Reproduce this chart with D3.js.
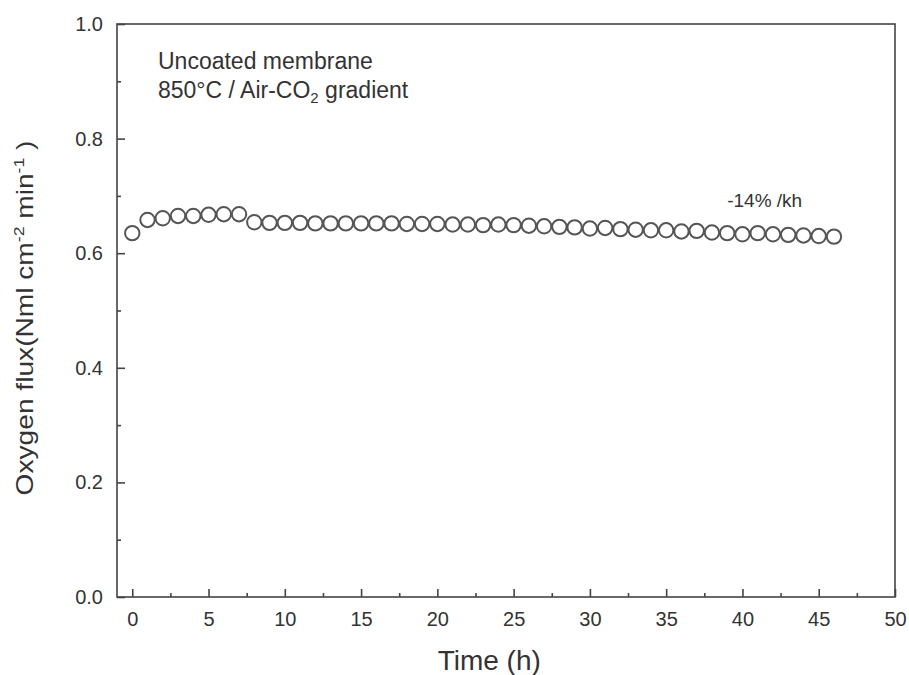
<!DOCTYPE html>
<html lang="en">
<head>
<meta charset="UTF-8">
<title>Oxygen flux</title>
<script src="https://cdn.jsdelivr.net/npm/d3@7"></script>
<style>
  body { margin: 0; background: #fff; }
  text { font-family: "Liberation Sans", Arial, sans-serif; fill: #333; }
</style>
</head>
<body>
<script>
// time in hours and oxygen flux values
var hours = d3.range(0, 47);
var flux = [0.635, 0.658, 0.661, 0.665, 0.665, 0.667, 0.668, 0.668, 0.654, 0.653,
            0.653, 0.653, 0.652, 0.652, 0.652, 0.652, 0.652, 0.652, 0.651, 0.651,
            0.651, 0.650, 0.650, 0.649, 0.650, 0.649, 0.648, 0.647, 0.646, 0.645,
            0.643, 0.644, 0.642, 0.641, 0.640, 0.640, 0.638, 0.639, 0.636, 0.635,
            0.633, 0.635, 0.633, 0.632, 0.631, 0.630, 0.629];
var xTicks = [0, 5, 10, 15, 20, 25, 30, 35, 40, 45, 50];
var yTicks = [0.0, 0.2, 0.4, 0.6, 0.8, 1.0];

var width = 909, height = 675;
var margin = { top: 24, right: 14, bottom: 78, left: 117 };
var w = width - margin.left - margin.right;
var h = height - margin.top - margin.bottom;

var svg = d3.select('body').append('svg')
    .attr('width', width)
    .attr('height', height);

var g = svg.append('g')
    .attr('transform', 'translate(' + margin.left + ',' + margin.top + ')');

var x = d3.scaleLinear().domain([-1, 50]).range([0, w]);
var y = d3.scaleLinear().domain([0, 1]).range([h, 0]);

var axisColor = '#444';

// frame
g.append('rect')
    .attr('width', w).attr('height', h)
    .attr('fill', 'none')
    .attr('stroke', axisColor)
    .attr('stroke-width', 1.6);

// x axis: major ticks pointing inward, minor ticks between
g.append('g')
    .attr('transform', 'translate(0,' + h + ')')
    .call(d3.axisBottom(x).tickValues(xTicks).tickSize(-8).tickPadding(15)
        .tickFormat(d3.format('d')));
g.append('g')
    .attr('transform', 'translate(0,' + h + ')')
    .call(d3.axisBottom(x).tickValues(d3.range(2.5, 50, 5)).tickSize(-4).tickFormat(''));

// y axis
g.append('g')
    .call(d3.axisLeft(y).tickValues(yTicks).tickSize(-8).tickPadding(14)
        .tickFormat(d3.format('.1f')));
g.append('g')
    .call(d3.axisLeft(y).tickValues(d3.range(0.1, 1, 0.2)).tickSize(-4).tickFormat(''));

g.selectAll('.domain').remove();
g.selectAll('.tick line').attr('stroke', axisColor).attr('stroke-width', 1.6);
g.selectAll('.tick text').attr('font-size', 20).attr('fill', '#333');

// data points
g.selectAll('circle')
    .data(hours)
    .enter()
    .append('circle')
    .attr('cx', function(d) { return x(d); })
    .attr('cy', function(d, i) { return y(flux[i]); })
    .attr('r', 7.2)
    .attr('fill', '#fff')
    .attr('stroke', '#555')
    .attr('stroke-width', 2);

// annotations
g.append('text')
    .attr('x', 41)
    .attr('y', 45)
    .attr('font-size', 23)
    .text('Uncoated membrane');
var line2 = g.append('text')
    .attr('x', 41)
    .attr('y', 74)
    .attr('font-size', 23);
line2.append('tspan').text('850°C / Air-CO');
line2.append('tspan').attr('font-size', 15).attr('dy', 5).text('2');
line2.append('tspan').attr('dy', -5).text(' gradient');

g.append('text')
    .attr('x', x(39))
    .attr('y', 183)
    .attr('font-size', 19)
    .text('-14% /kh');

// axis titles
svg.append('text')
    .attr('x', margin.left + x(23.4))
    .attr('y', 670)
    .attr('text-anchor', 'middle')
    .attr('font-size', 28)
    .text('Time (h)');

var yl = svg.append('text')
    .attr('text-anchor', 'middle')
    .attr('font-size', 24);
yl.append('tspan').text('Oxygen flux(Nml cm');
yl.append('tspan').attr('font-size', 15).attr('dy', -9).text('-2');
yl.append('tspan').attr('dy', 9).text(' min');
yl.append('tspan').attr('font-size', 15).attr('dy', -9).text('-1');
yl.append('tspan').attr('dy', 9).text(' )');
// stretch the title to the length it has in the picture
var ylLen = yl.node().getComputedTextLength();
yl.attr('transform', 'translate(33,318) rotate(-90) scale(' + (355 / ylLen) + ',1)');
</script>
</body>
</html>
